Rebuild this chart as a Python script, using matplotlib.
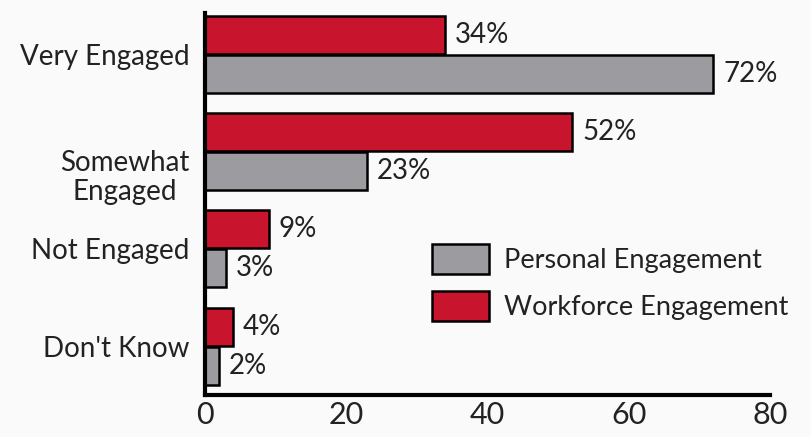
import matplotlib

matplotlib.use("Agg")
import matplotlib.pyplot as plt
from matplotlib.patches import Patch
from matplotlib.transforms import ScaledTranslation

plt.rcParams["font.family"] = ["Lato", "DejaVu Sans"]

categorias = ["Very Engaged", "Somewhat\nEngaged", "Not Engaged", "Don't Know"]
workforce = [34, 52, 9, 4]
personal = [72, 23, 3, 2]
xticks = [0, 20, 40, 60, 80]

vermelho = "#c8142c"
cinza = "#9c9ca0"

fig = plt.figure(figsize=(8.12, 4.37), dpi=100, facecolor="#fafafa")
ax = fig.add_axes([205 / 812, 1 - 395 / 437, 565 / 812, 395 / 437])
ax.set_facecolor("#fafafa")

y = list(range(len(categorias)))
h = 0.39
y_red = [i - 0.2 for i in y]
y_gray = [i + 0.2 for i in y]

b1 = ax.barh(y_red, workforce, height=h, color=vermelho, edgecolor="black", linewidth=1.8)
b2 = ax.barh(y_gray, personal, height=h, color=cinza, edgecolor="black", linewidth=1.8)

for bars, vals in ((b1, workforce), (b2, personal)):
    for bar, v in zip(bars, vals):
        ax.annotate(f"{v}%", (bar.get_width(), bar.get_y() + bar.get_height() / 2),
                    xytext=(7, 0), textcoords="offset points",
                    ha="left", va="center", fontsize=20, color="#222222")

ax.set_xlim(0, 80)
ax.set_ylim(3.5, -0.555)
ax.set_yticks(y)
ax.set_yticklabels(categorias, fontsize=20, multialignment="center", color="#222222",
                   linespacing=1.15)
ax.set_xticks(xticks)
ax.set_xticklabels([str(t) for t in xticks], fontsize=22, color="#222222")
ax.tick_params(axis="both", length=0)
ax.tick_params(axis="y", pad=11)
ax.tick_params(axis="x", pad=4)

# "Somewhat Engaged" fica um pouco abaixo do centro do grupo no original
lbl = ax.get_yticklabels()[1]
lbl.set_transform(lbl.get_transform() + ScaledTranslation(0, -16 / 72, fig.dpi_scale_trans))

for s in ("top", "right"):
    ax.spines[s].set_visible(False)
ax.spines["left"].set_linewidth(3)
ax.spines["left"].set_bounds(3.5, -0.42)
ax.spines["bottom"].set_linewidth(3)

handles = [Patch(facecolor=cinza, edgecolor="black", linewidth=1.8, label="Personal Engagement"),
           Patch(facecolor=vermelho, edgecolor="black", linewidth=1.8, label="Workforce Engagement")]
fig.legend(handles=handles, loc="upper left", bbox_to_anchor=(432 / 812, 1 - 244 / 437),
           frameon=False, fontsize=19.5, handlelength=2.1, handleheight=1.35,
           handletextpad=0.55, labelspacing=0.6, borderpad=0, borderaxespad=0,
           labelcolor="#222222")

fig.savefig("out.png", dpi=100, facecolor=fig.get_facecolor())
plt.close(fig)
